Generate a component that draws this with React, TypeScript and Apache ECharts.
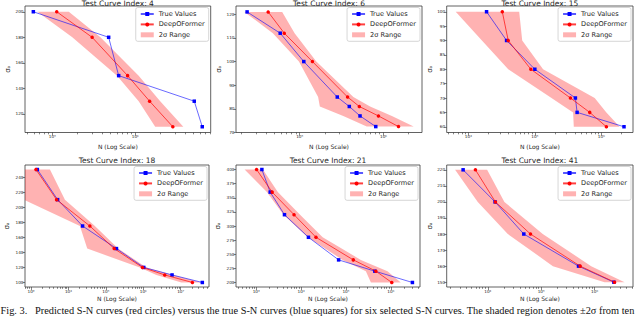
import React, { useEffect, useRef } from 'react';
import * as echarts from 'echarts';

// ---------- data ----------
const titles = [
  'Test Curve Index: 4',
  'Test Curve Index: 6',
  'Test Curve Index: 15',
  'Test Curve Index: 18',
  'Test Curve Index: 21',
  'Test Curve Index: 41',
];
const seriesNames = ['True Values', 'DeepOFormer', '2σ Range'];

// Curve 4
const stress4 = [200, 180, 150, 130, 110];
const trueN4 = [59000, 478000, 631000, 5150000, 6430000];
const predN4 = [113000, 302000, 809000, 1490000, 2840000];
const lowN4 = [66000, 174000, 603000, 1100000, 1740000];
const highN4 = [158000, 380000, 1100000, 2000000, 3800000];
const yTicks4 = [120, 140, 160, 180, 200];
const xTicks4 = [1e5, 1e6];
const xLim4 = [46800, 8130000];
const yLim4 = [105.5, 204.5];

// Curve 6
const stress6 = [121, 112, 100, 85, 81, 77, 72.5];
const trueN6 = [23600, 58600, 112000, 281000, 391000, 525000, 809000];
const predN6 = [42100, 65500, 142000, 373000, 515000, 871000, 1510000];
const lowN6 = [21900, 47900, 98000, 166000, 174000, 331000, 631000];
const highN6 = [61900, 87100, 158000, 437000, 692000, 1260000, 2290000];
const yTicks6 = [70, 80, 90, 100, 110, 120];
const xTicks6 = [1e5, 1e6];
const xLim6 = [17400, 2880000];
const yLim6 = [70, 123.5];

// Curve 15
const stress15 = [100, 90, 80, 70, 65, 60];
const trueN15 = [18800, 37600, 100000, 407000, 432000, 2190000];
const predN15 = [32400, 39800, 87100, 343000, 668000, 1190000];
const lowN15 = [6460, 16000, 39800, 178000, 376000, 385000];
const highN15 = [58200, 64600, 133000, 794000, 1190000, 1880000];
const yTicks15 = [60, 65, 70, 75, 80, 85, 90, 95, 100];
const xTicks15 = [1e4, 1e5, 1e6];
const xLim15 = [4730, 2990000];
const yLim15 = [58, 102];

// Curve 18
const stress18 = [250, 210, 175, 145, 120, 110, 100];
const trueN18 = [1480, 5140, 23900, 192000, 1030000, 5870000, 37800000];
const predN18 = [1360, 4830, 37400, 167000, 950000, 3740000, 20500000];
const lowN18 = [562, 631, 20300, 31800, 807000, 2240000, 10400000];
const highN18 = [3210, 8070, 50900, 213000, 1210000, 6250000, 35600000];
const yTicks18 = [100, 120, 140, 160, 180, 200, 220, 240];
const xTicks18 = [1e3, 1e4, 1e5, 1e6, 1e7];
const xLim18 = [692, 57000000];
const yLim18 = [94, 256];

// Curve 21
const stress21 = [400, 360, 320, 280, 240, 220, 200];
const trueN21 = [1340, 2050, 4270, 14600, 68700, 441000, 3030000];
const predN21 = [1020, 2270, 6980, 21500, 146000, 465000, 1050000];
const lowN21 = [551, 1730, 4050, 14100, 84300, 278000, 360000];
const highN21 = [1410, 3030, 9510, 30300, 215000, 843000, 1670000];
const yTicks21 = [200, 225, 250, 275, 300, 325, 350, 375, 400];
const xTicks21 = [1e3, 1e4, 1e5, 1e6];
const xLim21 = [355, 4470000];
const yLim21 = [192, 408];

// Curve 41
const stress41 = [220, 200, 180, 160, 150];
const trueN41 = [3450, 13700, 47300, 501000, 2300000];
const predN41 = [5870, 13900, 63100, 538000, 2370000];
const lowN41 = [2440, 6490, 23700, 166000, 1540000];
const highN41 = [9720, 20500, 107000, 866000, 3650000];
const yTicks41 = [150, 160, 170, 180, 190, 200, 210, 220];
const xTicks41 = [1e4, 1e5, 1e6];
const xLim41 = [1700, 5250000];
const yLim41 = [147, 223];

const caption =
  'Fig. 3.   Predicted S-N curves (red circles) versus the true S-N curves (blue squares) for six selected S-N curves. The shaded region denotes ±2σ from ten';

// ---------- layout / style ----------
const panels = [
  { stress: stress4, trueN: trueN4, predN: predN4, low: lowN4, high: highN4, yTicks: yTicks4, xTicks: xTicks4, xLim: xLim4, yLim: yLim4,
    grid: { left: 25, top: 6, width: 185.7, height: 126.5 }, yGap: 13, xGap: 11 },
  { stress: stress6, trueN: trueN6, predN: predN6, low: lowN6, high: highN6, yTicks: yTicks6, xTicks: xTicks6, xLim: xLim6, yLim: yLim6,
    grid: { left: 236, top: 6, width: 186, height: 126.5 }, yGap: 14, xGap: 11 },
  { stress: stress15, trueN: trueN15, predN: predN15, low: lowN15, high: highN15, yTicks: yTicks15, xTicks: xTicks15, xLim: xLim15, yLim: yLim15,
    grid: { left: 446.7, top: 6, width: 186.3, height: 126.5 }, yGap: 12, xGap: 11 },
  { stress: stress18, trueN: trueN18, predN: predN18, low: lowN18, high: highN18, yTicks: yTicks18, xTicks: xTicks18, xLim: xLim18, yLim: yLim18,
    grid: { left: 25, top: 165, width: 184, height: 122 }, yGap: 15, xGap: 8.5 },
  { stress: stress21, trueN: trueN21, predN: predN21, low: lowN21, high: highN21, yTicks: yTicks21, xTicks: xTicks21, xLim: xLim21, yLim: yLim21,
    grid: { left: 236, top: 165, width: 184, height: 122 }, yGap: 15, xGap: 8.5 },
  { stress: stress41, trueN: trueN41, predN: predN41, low: lowN41, high: highN41, yTicks: yTicks41, xTicks: xTicks41, xLim: xLim41, yLim: yLim41,
    grid: { left: 446.7, top: 165, width: 186.3, height: 122 }, yGap: 13, xGap: 8.5 },
];

const SUP = ['⁰', '¹', '²', '³', '⁴', '⁵', '⁶', '⁷', '⁸', '⁹'];
const supNum = (n: number) => String(n).split('').map((c) => (c === '-' ? '⁻' : SUP[+c])).join('');
const FONT = 'DejaVu Sans';
const TXT = '#262626';

function minorTicks(lim: number[]) {
  const out: number[] = [];
  const k0 = Math.floor(Math.log10(lim[0]));
  const k1 = Math.ceil(Math.log10(lim[1]));
  for (let k = k0; k <= k1; k++) {
    for (let m = 2; m <= 9; m++) {
      const v = m * Math.pow(10, k);
      if (v > lim[0] && v < lim[1]) out.push(v);
    }
  }
  return out;
}

function buildOption() {
  const grid: any[] = [];
  const xAxis: any[] = [];
  const yAxis: any[] = [];
  const series: any[] = [];
  const legend: any[] = [];
  const graphic: any[] = [];

  panels.forEach((p, i) => {
    grid.push({ ...p.grid, show: true, borderColor: '#3a3a3a', borderWidth: 0.8, backgroundColor: 'transparent', containLabel: false });
    const tickStyle = { color: '#333', width: 0.6 };
    xAxis.push({
      type: 'log', logBase: 10, gridIndex: i, min: p.xLim[0], max: p.xLim[1], position: 'bottom',
      axisLine: { show: false },
      splitLine: { show: false },
      axisTick: { show: true, customValues: p.xTicks, length: 3, lineStyle: tickStyle },
      axisLabel: {
        customValues: p.xTicks, fontSize: 4.2, fontFamily: FONT, color: TXT, margin: 2,
        formatter: (v: number) => '10' + supNum(Math.round(Math.log10(v))),
      },
      name: 'N (Log Scale)', nameLocation: 'middle', nameGap: p.xGap,
      nameTextStyle: { fontSize: 6, fontFamily: FONT, color: TXT },
    });
    xAxis.push({
      type: 'log', logBase: 10, gridIndex: i, min: p.xLim[0], max: p.xLim[1], position: 'bottom',
      axisLine: { show: false }, splitLine: { show: false }, axisLabel: { show: false },
      axisTick: { show: true, customValues: minorTicks(p.xLim), length: 1.8, lineStyle: tickStyle },
    });
    yAxis.push({
      type: 'value', gridIndex: i, min: p.yLim[0], max: p.yLim[1],
      axisLine: { show: false }, splitLine: { show: false },
      axisTick: { show: true, customValues: p.yTicks, length: 2.5, lineStyle: tickStyle },
      axisLabel: { customValues: p.yTicks, fontSize: 4.2, fontFamily: FONT, color: TXT, margin: 1.5 },
      name: 'σₐ', nameLocation: 'middle', nameRotate: 90, nameGap: p.yGap,
      nameTextStyle: { fontSize: 7, fontFamily: FONT, color: TXT },
    });

    const low = p.low, high = p.high, stress = p.stress;
    series.push({
      type: 'custom', name: seriesNames[2], xAxisIndex: 2 * i, yAxisIndex: i, clip: true, z: 1,
      itemStyle: { color: 'rgba(255,0,0,0.3)' },
      data: [[low[0], stress[0]]],
      renderItem: (params: any, api: any) => {
        if (params.dataIndex !== 0) return null;
        const pts: number[][] = [];
        for (let j = 0; j < stress.length; j++) pts.push(api.coord([low[j], stress[j]]));
        for (let j = stress.length - 1; j >= 0; j--) pts.push(api.coord([high[j], stress[j]]));
        return { type: 'polygon', shape: { points: pts }, style: { fill: 'rgba(255,0,0,0.3)', stroke: null } };
      },
    });
    series.push({
      type: 'line', name: seriesNames[0], xAxisIndex: 2 * i, yAxisIndex: i, z: 3,
      data: p.trueN.map((n, j) => [n, stress[j]]),
      symbol: 'rect', symbolSize: 3.5, showSymbol: true,
      lineStyle: { color: 'rgba(0,0,255,0.65)', width: 0.9 },
      itemStyle: { color: '#0000ff' },
    });
    series.push({
      type: 'line', name: seriesNames[1], xAxisIndex: 2 * i, yAxisIndex: i, z: 4,
      data: p.predN.map((n, j) => [n, stress[j]]),
      symbol: 'circle', symbolSize: 3.5, showSymbol: true,
      lineStyle: { color: 'rgba(255,0,0,0.75)', width: 0.9 },
      itemStyle: { color: '#ff0000' },
    });

    const gRight = p.grid.left + p.grid.width;
    legend.push({
      orient: 'vertical', right: 640 - gRight + 2, top: p.grid.top + 1.5,
      data: [{ name: seriesNames[0] }, { name: seriesNames[1] }, { name: seriesNames[2], icon: 'rect' }],
      itemWidth: 13, itemHeight: 5, itemGap: 3.4, padding: [3, 4, 3, 4],
      textStyle: { fontSize: 6.6, fontFamily: FONT, color: TXT, padding: [0, 0, 0, 0] },
      borderColor: '#cccccc', borderWidth: 0.8, borderRadius: 2, backgroundColor: 'rgba(255,255,255,0.85)',
      selectedMode: false,
    });

    graphic.push({
      type: 'text', x: p.grid.left + p.grid.width / 2, y: i < 3 ? 3 : 160,
      style: { text: titles[i], fontSize: 7.5, fontFamily: FONT, fill: TXT, textAlign: 'center', textVerticalAlign: 'middle' },
    });
  });

  graphic.push({
    type: 'text', x: 0.5, y: 310.5,
    style: { text: caption, fontSize: 10.35, fontFamily: 'Liberation Serif', fill: '#111', textAlign: 'left', textVerticalAlign: 'middle' },
  });

  return { animation: false, backgroundColor: '#ffffff', grid, xAxis, yAxis, series, legend, graphic };
}

export default function App() {
  const ref = useRef<HTMLDivElement>(null);
  useEffect(() => {
    if (!ref.current) return;
    const chart = echarts.init(ref.current, undefined, { renderer: 'svg' });
    chart.setOption(buildOption() as any);
    return () => chart.dispose();
  }, []);
  return <div ref={ref} style={{ position: 'fixed', left: 0, top: 0, width: 640, height: 320 }} />;
}
